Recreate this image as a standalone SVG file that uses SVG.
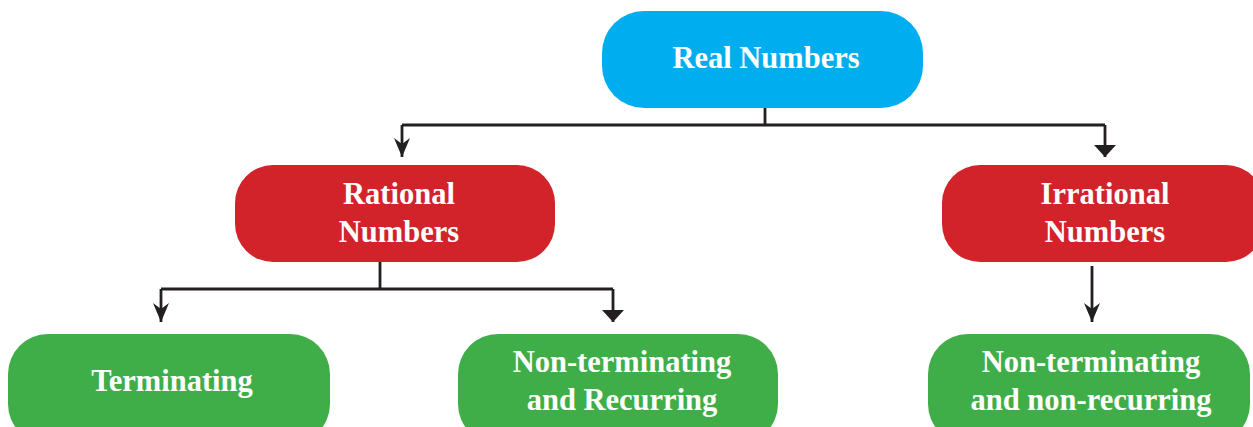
<svg xmlns="http://www.w3.org/2000/svg" width="1253" height="427" viewBox="0 0 1253 427">
<style>
.lbl{font-family:"Liberation Serif","Times New Roman",serif;font-weight:bold;font-size:30.5px;fill:#ffffff;text-anchor:middle}
.blue{fill:#00AEEF}
.red{fill:#D2232A}
.green{fill:#3FAE49}
.con{fill:none;stroke:#231F20;stroke-width:2.8}
</style>
<defs>
<marker id="ah" markerUnits="userSpaceOnUse" viewBox="0 0 19 16" refX="19" refY="8" markerWidth="19" markerHeight="16" orient="auto">
<path d="M0,0 L6,8 L0,16 L19,8 Z" fill="#231F20"/>
</marker>
<marker id="ahf" markerUnits="userSpaceOnUse" viewBox="0 0 12 22" refX="12" refY="11" markerWidth="12" markerHeight="22" orient="auto">
<path d="M0,0 L12,11 L0,22 Z" fill="#231F20"/>
</marker>
</defs>
<rect width="1253" height="427" fill="#ffffff"/>
<g id="connectors">
<path class="con" d="M765,108 V125"/>
<path class="con" d="M402,125 H1105"/>
<path class="con" d="M402,125 V157" marker-end="url(#ah)"/>
<path class="con" d="M1105,125 V157" marker-end="url(#ahf)"/>
<path class="con" d="M380,262 V290"/>
<path class="con" d="M161,289 H613"/>
<path class="con" d="M161,289 V322" marker-end="url(#ah)"/>
<path class="con" d="M613,289 V322" marker-end="url(#ahf)"/>
<path class="con" d="M1092,266 V322" marker-end="url(#ah)"/>
</g>
<g id="real">
<rect class="blue" x="602" y="11" width="321" height="97" rx="42"/>
<text class="lbl" x="766" y="68">Real Numbers</text>
</g>
<g id="rational">
<rect class="red" x="235" y="165" width="320" height="97" rx="38"/>
<text class="lbl" x="399" y="204">Rational</text>
<text class="lbl" x="399" y="242">Numbers</text>
</g>
<g id="irrational">
<rect class="red" x="942" y="165" width="322" height="97" rx="38"/>
<text class="lbl" x="1105" y="204">Irrational</text>
<text class="lbl" x="1105" y="242">Numbers</text>
</g>
<g id="terminating">
<rect class="green" x="8" y="334" width="322" height="110" rx="40"/>
<text class="lbl" x="172" y="391">Terminating</text>
</g>
<g id="recurring">
<rect class="green" x="458" y="334" width="320" height="110" rx="40"/>
<text class="lbl" x="622" y="372">Non-terminating</text>
<text class="lbl" x="622" y="410">and Recurring</text>
</g>
<g id="nonrecurring">
<rect class="green" x="928" y="334" width="322" height="110" rx="40"/>
<text class="lbl" x="1091" y="372">Non-terminating</text>
<text class="lbl" x="1091" y="410">and non-recurring</text>
</g>
</svg>
